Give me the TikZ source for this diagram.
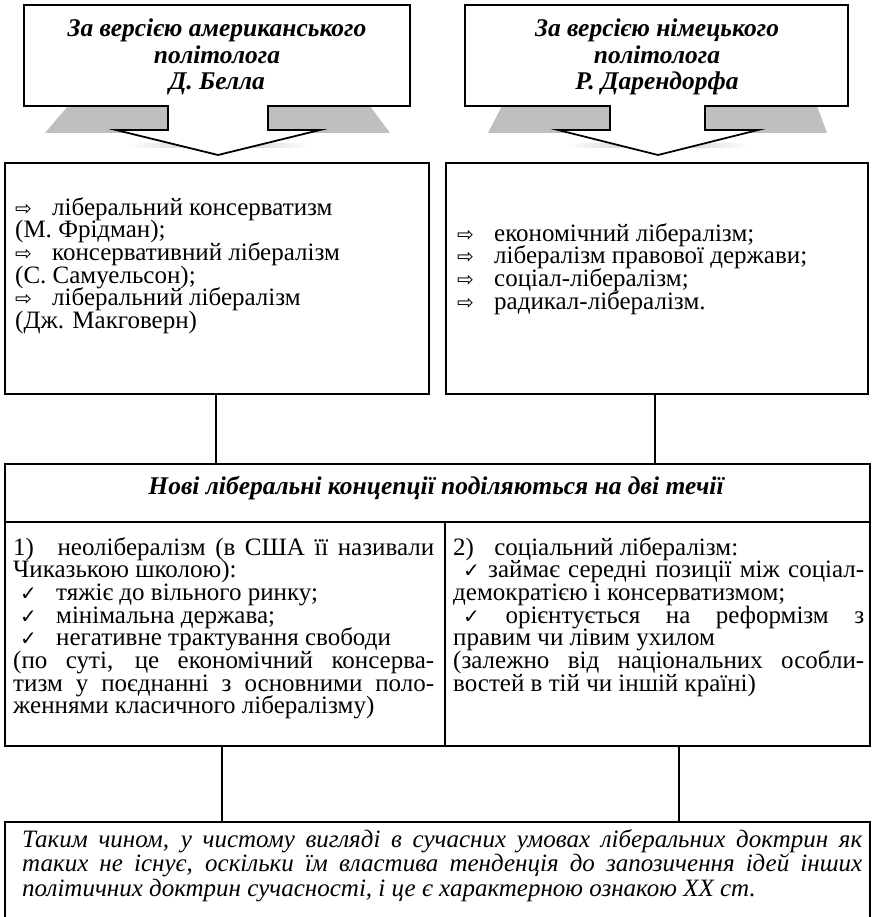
\documentclass[tikz,border=0pt]{standalone}
\usepackage{fontspec}
\setmainfont{Liberation Serif}
\newfontfamily\symf{DejaVu Sans}
\definecolor{shadowgray}{HTML}{BFBFBF}
\newcommand\arr{\makebox[37pt][l]{\fontsize{20}{20}\symf ⇨}}
\newcommand\chk{{\fontsize{20}{20}\symf ✓}}
\newcommand\jl[1]{\makebox[\linewidth][s]{#1}\\}
\newcommand\bodyfont{\fontsize{25}{22.7}\selectfont\lineskiplimit=-60pt\lineskip=0pt}
\begin{document}
\begin{tikzpicture}[x=1pt,y=-1pt,line join=miter,
  frame/.style={draw,line width=1.8pt,inner sep=0pt,anchor=north west},
  callout/.style={draw,line width=1.8pt,fill=white},
  conn/.style={line width=1.3pt},
  txt/.style={inner sep=0pt,anchor=base west},
  ctxt/.style={inner sep=0pt,anchor=base}]
\useasboundingbox (0,0) rectangle (875,917);
\clip (0,0) rectangle (875,917);

% ---------- left callout ----------
\fill[shadowgray] (68,106) -- (168,106) -- (168,133) -- (45,133) -- cycle;
\fill[shadowgray] (268,106) -- (370,106) -- (390,133) -- (268,133) -- cycle;
\shade[left color=white,right color=white,middle color=gray!45] (127,144) rectangle (310,148);
\draw[callout] (24,5) -- (410,5) -- (410,106) -- (268,106) -- (268,130) -- (320,130)
  -- (218,155) -- (116,130) -- (168,130) -- (168,106) -- (24,106) -- cycle;
\node[ctxt] (c1t) at (217,37) {\parbox[t]{370pt}{\centering\bfseries\itshape
  \fontsize{25.5}{26.5}\selectfont\lineskiplimit=-60pt\lineskip=0pt
  За версією американського\\ політолога\\ Д. Белла}};

% ---------- right callout ----------
\fill[shadowgray] (502,106) -- (610,106) -- (610,133) -- (488,133) -- cycle;
\fill[shadowgray] (705,106) -- (817,106) -- (827,133) -- (705,133) -- cycle;
\shade[left color=white,right color=white,middle color=gray!45] (565,144) rectangle (748,148);
\draw[callout] (465,5) -- (848,5) -- (848,106) -- (705,106) -- (705,130) -- (758,130)
  -- (658,155) -- (558,130) -- (610,130) -- (610,106) -- (465,106) -- cycle;
\node[ctxt] (c2t) at (657,37) {\parbox[t]{370pt}{\centering\bfseries\itshape
  \fontsize{25.5}{26.5}\selectfont\lineskiplimit=-60pt\lineskip=0pt
  За версією німецького\\ політолога\\ Р. Дарендорфа}};

% ---------- second row boxes ----------
\node[frame,minimum width=424pt,minimum height=231pt] (bl) at (4,162) {};
\node[frame,minimum width=422pt,minimum height=231pt] (br) at (445,162) {};
\node[txt] (blt) at (15,215) {\parbox[t]{405pt}{\bodyfont
  \arr ліберальний консерватизм\\
  (М. Фрідман);\\
  \arr консервативний лібералізм\\
  (С. Самуельсон);\\
  \arr ліберальний лібералізм\\
  (Дж. Макговерн)}};
\node[txt] (brt) at (457,241) {\parbox[t]{405pt}{\bodyfont
  \arr економічний лібералізм;\\
  \arr лібералізм правової держави;\\
  \arr соціал-лібералізм;\\
  \arr радикал-лібералізм.}};

% ---------- big box ----------
\node[frame,minimum width=865pt,minimum height=282pt] (big) at (4,463) {};
\coordinate (rowl) at (4,522);
\coordinate (rowr) at (869,522);
\coordinate (divt) at (445,522);
\draw[line width=1.8pt] (rowl) -- (rowr);
\draw[line width=1.5pt] (divt) -- (divt |- big.south);
\node[ctxt] (title) at (436,494) {\bfseries\itshape\fontsize{25.5}{27}\selectfont
  Нові ліберальні концепції поділяються на дві течії};

\node[txt] (cl) at (13,555) {\parbox[t]{421pt}{\bodyfont
  \jl{1)\hspace{14pt} неолібералізм (в США її називали}
  Чиказькою школою):\\
  \hspace*{7pt}\makebox[36pt][l]{\chk}тяжіє до вільного ринку;\\
  \hspace*{7pt}\makebox[36pt][l]{\chk}мінімальна держава;\\
  \hspace*{7pt}\makebox[36pt][l]{\chk}негативне трактування свободи\\
  \jl{(по суті, це економічний консерва-}
  \jl{тизм у поєднанні з основними поло-}
  женнями класичного лібералізму)}};
\node[txt] (cr) at (453,555) {\parbox[t]{411pt}{\bodyfont
  2)\hspace{14pt} соціальний лібералізм:\\
  \jl{\hspace*{10pt}\chk\ займає середні позиції між соціал-}
  демократією і консерватизмом;\\
  \jl{\hspace*{10pt}\chk\ орієнтується на реформізм з}
  правим чи лівим ухилом\\
  \jl{(залежно від національних особли-}
  востей в тій чи іншій країні)}};

% ---------- bottom box ----------
\node[frame,minimum width=865pt,minimum height=101pt] (bot) at (4,821) {};
\node[txt] (bott) at (22,847) {\parbox[t]{840pt}{\itshape
  \fontsize{25}{24.5}\selectfont\lineskiplimit=-60pt\lineskip=0pt
  \jl{Таким чином, у чистому вигляді в сучасних умовах ліберальних доктрин як}
  \jl{таких не існує, оскільки їм властива тенденція до запозичення ідей інших}
  політичних доктрин сучасності, і це є характерною ознакою ХХ ст.}};

% ---------- connectors ----------
\coordinate (k1) at (216,0);
\coordinate (k2) at (655,0);
\coordinate (k3) at (222,0);
\coordinate (k4) at (679,0);
\draw[conn] (k1 |- bl.south) -- (k1 |- big.north);
\draw[conn] (k2 |- br.south) -- (k2 |- big.north);
\draw[conn] (k3 |- big.south) -- (k3 |- bot.north);
\draw[conn] (k4 |- big.south) -- (k4 |- bot.north);
\end{tikzpicture}
\end{document}
